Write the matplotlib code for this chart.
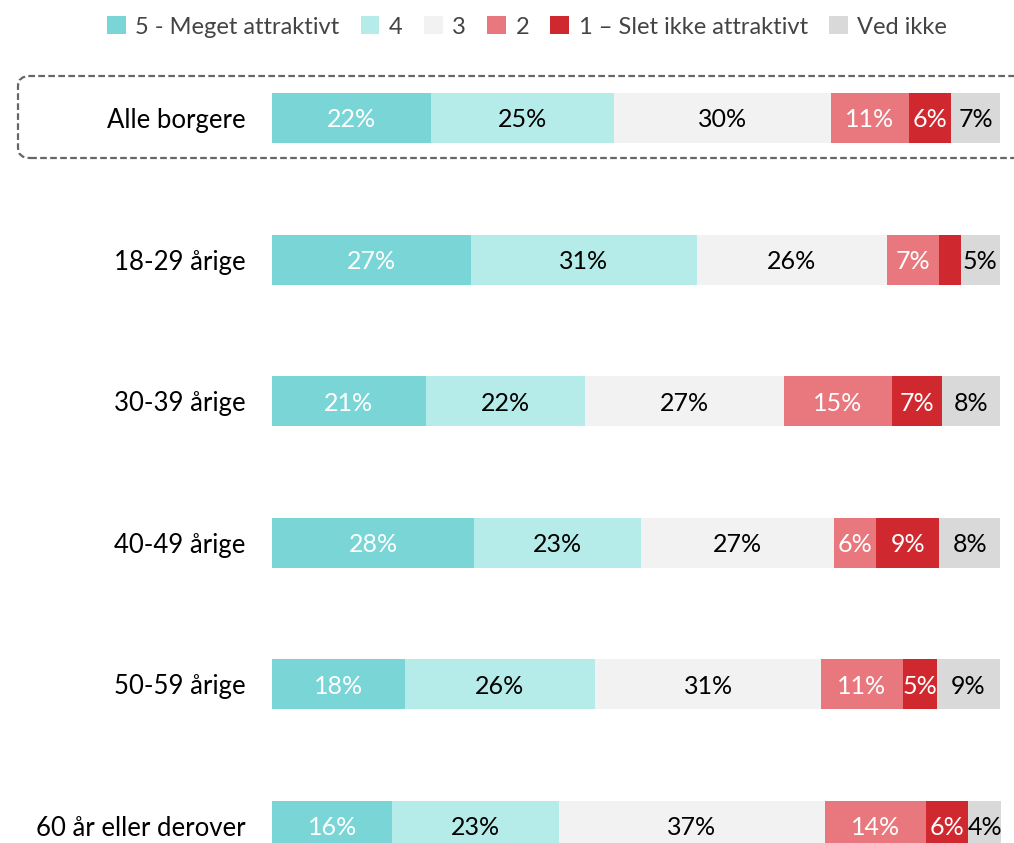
import matplotlib.pyplot as plt
import numpy as np
from matplotlib.patches import FancyBboxPatch, Patch

plt.rcParams["font.family"] = ["Lato", "DejaVu Sans"]

groups = ["Alle borgere", "18-29 årige", "30-39 årige", "40-49 årige",
          "50-59 årige", "60 år eller derover"]
categories = ["5 - Meget attraktivt", "4", "3", "2",
              "1 – Slet ikke attraktivt", "Ved ikke"]

# shares per group (labels are rounded)
v5 = [21.9, 27.3, 21.1, 27.8, 18.2, 16.5]
v4 = [25.0, 31.0, 21.9, 22.8, 26.2, 22.9]
v3 = [29.8, 26.2, 27.3, 26.6, 31.0, 36.5]
v2 = [10.8, 7.1, 14.8, 5.8, 11.2, 13.9]
v1 = [5.8, 3.0, 6.9, 8.6, 4.7, 5.8]
vdk = [6.7, 5.3, 8.0, 8.4, 8.6, 4.5]

# labels as printed (empty = no label)
lab5 = ["22%", "27%", "21%", "28%", "18%", "16%"]
lab4 = ["25%", "31%", "22%", "23%", "26%", "23%"]
lab3 = ["30%", "26%", "27%", "27%", "31%", "37%"]
lab2 = ["11%", "7%", "15%", "6%", "11%", "14%"]
lab1 = ["6%", "", "7%", "9%", "5%", "6%"]
labdk = ["7%", "5%", "8%", "8%", "9%", "4%"]

colors = ["#79D5D6", "#B5EBE8", "#F2F2F2", "#E8787D", "#D0282F", "#D9D9D9"]
text_colors = ["white", "black", "black", "white", "white", "black"]

series = [v5, v4, v3, v2, v1, vdk]
labels = [lab5, lab4, lab3, lab2, lab1, labdk]

fig = plt.figure(figsize=(10.14, 8.43), dpi=100)
W, H = 1014, 843
ax = fig.add_axes([272 / W, 0, 729 / W, 1])

y = np.arange(len(groups))
left = np.zeros(len(groups))
for vals, labs, col, tcol in zip(series, labels, colors, text_colors):
    vals = np.array(vals)
    ax.barh(y, vals, left=left, height=0.353, color=col, edgecolor="none")
    for yi, (l, v, t) in enumerate(zip(left, vals, labs)):
        if t:
            ax.text(l + v / 2, yi, t, ha="center", va="center_baseline",
                    fontsize=18, color=tcol)
    left += vals

ax.set_xlim(0, left.max())
ax.set_ylim((H - 118) / 141.6, -118 / 141.6)
ax.set_yticks(y)
ax.set_yticklabels(groups, fontsize=18.5, va="center_baseline")
ax.tick_params(axis="y", length=0, pad=19)
ax.set_xticks([])
for s in ax.spines.values():
    s.set_visible(False)

# dashed frame around the total row
box = FancyBboxPatch((18 / W, 1 - 158 / H), 1030 / W, 82 / H,
                     boxstyle="round,pad=0,rounding_size=0.012",
                     transform=fig.transFigure, fill=False,
                     edgecolor="#666666", linewidth=1.6,
                     linestyle=(0, (3, 1.5)), clip_on=False)
fig.patches.append(box)

handles = [Patch(facecolor=c, edgecolor="none") for c in colors]
fig.legend(handles, categories, loc="center", bbox_to_anchor=(527 / W, 1 - 27 / H),
           ncol=6, frameon=False, fontsize=17, handlelength=0.8,
           handleheight=0.8, handletextpad=0.4, columnspacing=0.9,
           labelcolor="#444444")

fig.savefig("out.png", dpi=100)
